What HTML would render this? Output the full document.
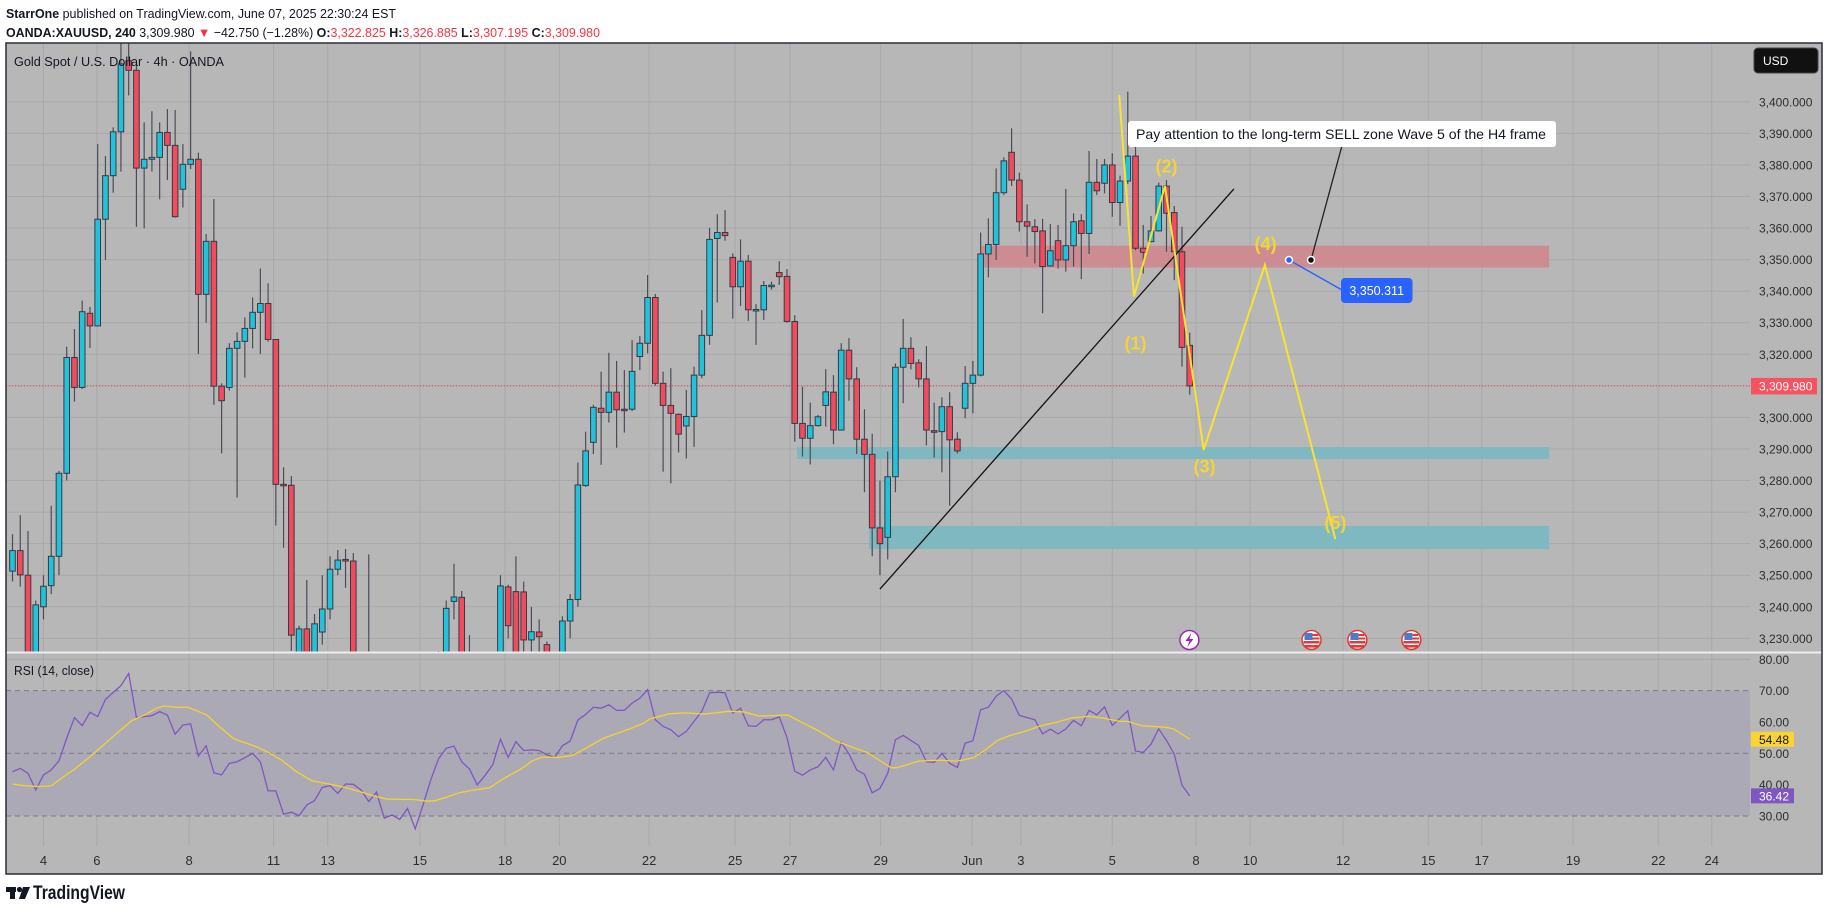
<!DOCTYPE html>
<html>
<head>
<meta charset="utf-8">
<style>
html,body{margin:0;padding:0;background:#fff;}
svg{display:block;font-family:"Liberation Sans",sans-serif;}
</style>
</head>
<body>
<svg id="root" width="1829" height="911" viewBox="0 0 1829 911" xmlns="http://www.w3.org/2000/svg">
  <rect x="0" y="0" width="1829" height="911" fill="#ffffff"/>
  <text x="6" y="18" font-size="13" fill="#131722" textLength="390" lengthAdjust="spacingAndGlyphs"><tspan font-weight="bold">StarrOne</tspan> published on TradingView.com, June 07, 2025 22:30:24 EST</text>
  <text x="6" y="37" font-size="13" fill="#131722" textLength="594" lengthAdjust="spacingAndGlyphs"><tspan font-weight="bold">OANDA:XAUUSD, 240</tspan> 3,309.980 <tspan fill="#f23645">▼</tspan> −42.750 (−1.28%) <tspan font-weight="bold">O:</tspan><tspan fill="#f23645">3,322.825</tspan> <tspan font-weight="bold">H:</tspan><tspan fill="#f23645">3,326.885</tspan> <tspan font-weight="bold">L:</tspan><tspan fill="#f23645">3,307.195</tspan> <tspan font-weight="bold">C:</tspan><tspan fill="#f23645">3,309.980</tspan></text>

  <rect x="6" y="43" width="1816" height="831" fill="#b7b7b7"/>
  <defs>
    <clipPath id="pricePane"><rect x="6" y="43" width="1744" height="609"/></clipPath>
    <clipPath id="rsiPane"><rect x="6" y="653" width="1744" height="193"/></clipPath>
  </defs>
  <g id="grid"></g>
  <g id="rsiBg"></g>
  <g id="zones" clip-path="url(#pricePane)"></g>
  <g id="candles" clip-path="url(#pricePane)"></g>
  <g id="drawings" clip-path="url(#pricePane)"></g>
  <g id="rsi" clip-path="url(#rsiPane)"></g>
  <g id="axes"></g>

  <line x1="6" y1="652.5" x2="1822" y2="652.5" stroke="#eeeeee" stroke-width="2"/>
  <text x="14" y="66" font-size="13" fill="#131722" textLength="210" lengthAdjust="spacingAndGlyphs">Gold Spot / U.S. Dollar · 4h · OANDA</text>
  <text x="14" y="675" font-size="13" fill="#131722" textLength="80" lengthAdjust="spacingAndGlyphs">RSI (14, close)</text>
  <rect x="1754" y="48" width="64" height="25" rx="4" fill="#111111" stroke="#444" stroke-width="1"/>
  <text x="1763" y="65" font-size="12" fill="#ffffff">USD</text>
  <rect x="6" y="43" width="1816" height="831" fill="none" stroke="#2a2e39" stroke-width="1.5"/>
  <g>
    <rect x="6" y="887" width="10" height="5" fill="#131722"/>
    <rect x="10" y="887" width="5" height="12" fill="#131722"/>
    <circle cx="19.5" cy="889.5" r="2.6" fill="#131722"/>
    <polygon points="23,887 30,887 25,899 19,899" fill="#131722"/>
    <text x="33" y="899" font-size="19" font-weight="bold" fill="#131722" textLength="92" lengthAdjust="spacingAndGlyphs">TradingView</text>
  </g>
</svg>
<script>
const opens = [3251.3,3257.8,3250,3222,3240,3246.7,3256,3282.3,3319,3309.5,3333,3329,3362.8,3376.6,3390.5,3413,3410,3379,3381.8,3382.4,3390.3,3386.2,3372.3,3380.2,3381.8,3339,3355.8,3309.9,3309.5,3321.9,3324.1,3328.2,3333.3,3336.1,3324.7,3278.8,3278.5,3224,3233,3222,3232,3239.3,3251.9,3255,3254.5,3218,3210,3220,3212,3205,3214,3219,3211,3217,3209,3216,3222,3241.7,3243,3218,3214,3219,3212,3220,3246.3,3244.8,3244.7,3229.5,3232,3228,3220,3214,3235.5,3242.3,3278.4,3292.1,3302.9,3301.6,3308,3302.6,3302.6,3319.3,3323.5,3338,3310.8,3303.8,3301,3297.3,3300.3,3313.4,3326,3356.7,3358.6,3350.7,3341.4,3349.5,3334.1,3334.1,3341.8,3345.9,3344.7,3330.4,3298.1,3293.4,3297.4,3303.8,3308,3296,3321.3,3312.2,3293.1,3288.3,3265,3262,3281.2,3315.9,3321.9,3317.3,3312.2,3295.8,3295.5,3303.4,3293.1,3302.9,3310.8,3313.4,3351.8,3354.8,3371.2,3384,3375.2,3362,3360.4,3359.1,3348,3356,3349.9,3354.4,3362.3,3358.3,3374.5,3374.2,3380,3368.1,3374.9,3382.8,3353.6,3355.7,3359.1,3373.3,3364.9,3352.5,3322.825];
const highs = [3263,3269,3264,3242,3250,3272,3283,3322.4,3328,3337,3335,3386.6,3382.8,3391.9,3420,3422,3412,3393.5,3397,3393.5,3397.7,3397.4,3386.6,3416,3383.9,3358.1,3369.2,3310.8,3323.5,3327,3331.7,3338,3347.2,3342.5,3324.7,3284.2,3281.4,3234,3248.5,3237.7,3250,3256,3258,3258.3,3257,3224,3256.6,3224,3218,3220,3223,3222,3221,3220,3222,3226,3242,3253.6,3245,3231,3224,3223,3224,3250,3247,3256,3248,3240,3236,3229,3224,3237,3244,3285.7,3295.5,3304,3314.5,3320.5,3317.9,3315,3324.5,3325.8,3345.1,3339.1,3314.5,3315.6,3301.3,3308.7,3316.1,3334,3360.1,3364.4,3365.7,3352,3356.4,3351.5,3335.9,3343.2,3343,3349.5,3347,3332.4,3309.7,3304.7,3300.8,3315.3,3313.4,3323.5,3325.1,3315.9,3302.6,3294.8,3280,3289.2,3317.1,3331.2,3325.4,3318.4,3322.6,3304.7,3306.4,3308,3295.3,3316.3,3317.9,3358.6,3363.1,3378.9,3382.4,3391.6,3377.6,3367.5,3362.8,3362.9,3361.3,3361,3372.4,3364.7,3364.4,3384.4,3381.9,3381.9,3383.7,3376.6,3403.2,3388.1,3361,3363.8,3374.4,3375.2,3367,3360.4,3326.885];
const lows = [3248,3246.4,3218,3219,3236,3244,3250,3280,3305,3309,3322,3329,3349.9,3371.2,3377.9,3402,3360.4,3359.9,3377.9,3369.1,3375.2,3363.3,3366.5,3378.7,3320.1,3330,3304,3288.6,3308.5,3274.6,3312.6,3321.9,3320.1,3324,3265.7,3258.7,3226,3218,3216,3218,3228,3236,3250,3246,3212,3204,3205,3206,3200,3201,3210,3207,3206,3204,3205,3212,3220,3236,3212,3208,3210,3207,3209,3217,3230,3219,3225,3225,3224,3214,3208,3210,3230,3240,3278,3288.4,3285,3298.4,3290.4,3295.2,3302,3315,3320.3,3310.1,3282.8,3279.1,3288.9,3287,3290.7,3312.4,3323,3336.4,3356,3331.3,3335.3,3330.6,3323,3330.9,3340.5,3342,3330,3292.3,3287.6,3285.1,3297.1,3297.1,3291.5,3296,3305.3,3288.4,3276.3,3256,3250,3255,3276.3,3304.5,3315.2,3309.5,3291.1,3287.3,3282.6,3272,3288.6,3299.7,3301.3,3313,3344.4,3349.9,3370.5,3373.3,3358.9,3350.9,3348.8,3333,3347.8,3347.2,3346.2,3347.8,3343.8,3351.8,3370.5,3371,3363.6,3360.7,3374,3353,3345.6,3355.5,3358.9,3352.5,3343.5,3316.1,3307.195];
const closes = [3257.8,3250.1,3222,3240.6,3246.5,3256,3282.3,3319,3309.5,3333.5,3329,3362.8,3376.6,3390.5,3412,3410,3379,3381.8,3382.4,3390.3,3386.2,3363.6,3380.2,3381.8,3339,3355.8,3309.9,3305.3,3321.9,3324.1,3328.2,3333.3,3336.1,3324.7,3278.8,3278.6,3231,3233,3222,3234.6,3239.3,3251.9,3254.8,3254.5,3218,3210,3220,3212,3205,3214,3219,3211,3217,3209,3216,3222,3239.5,3243.1,3218,3214,3219,3212,3220,3246.6,3234,3224,3229.5,3232.1,3230.5,3220,3214,3235.5,3242.3,3278.6,3289.4,3303.2,3301.6,3308,3302.4,3302.5,3314.6,3323.5,3338,3310.8,3303.8,3301.3,3294.7,3300.3,3313.4,3326,3356.4,3358.6,3357.6,3341.4,3349.5,3334.1,3334.2,3341.8,3341.9,3344.6,3330.4,3298.1,3293.4,3297.4,3300.2,3308.1,3296,3321.3,3312.2,3293.1,3288.3,3265,3260,3281.2,3315.9,3321.9,3317.1,3312.2,3296,3295.3,3303.4,3292.9,3289.4,3310.8,3313.4,3351.8,3354.8,3371.2,3381.3,3375.2,3362,3360.6,3358.9,3347.8,3352.8,3349.9,3354.4,3362,3358.3,3374.5,3371.8,3380,3368.1,3374.9,3382.8,3353.6,3352.3,3359.1,3373.3,3364.7,3352.5,3322.2,3309.98];
const rsiValues = [44.1,45.2,43.6,38.3,43.1,44.7,47.6,54.8,61.4,58.8,63.1,61.7,67.2,69.4,71.6,75.5,61.4,61.7,62.0,63.3,62.2,56.1,59.0,59.4,49.1,52.4,43.8,43.1,46.8,47.3,48.6,50.0,47.3,38.0,38.0,30.6,31.2,30.1,33.5,34.9,39.1,39.7,37.2,40.2,40.1,38.3,34.6,37.6,29.3,30.3,28.9,32.4,25.9,33.5,41.5,48.2,51.6,52.3,47.3,45.0,39.9,42.9,46.3,54.5,48.7,53.7,50.9,51.1,50.9,49.5,48.7,52.4,53.9,60.6,62.4,64.7,64.4,65.5,63.7,63.7,66.0,67.6,70.3,60.7,58.6,57.5,55.3,57.0,60.2,63.4,69.3,69.5,69.3,62.8,64.4,58.8,58.6,60.7,60.7,61.6,55.0,44.3,43.0,44.7,45.7,48.7,44.7,53.5,49.8,44.7,43.3,37.4,38.8,43.6,54.3,55.7,54.1,52.5,47.3,47.1,50.0,46.8,45.5,53.2,54.0,63.9,64.7,68.2,70.0,67.3,62.1,61.4,60.7,56.2,57.7,56.2,57.8,60.5,58.8,63.7,62.3,64.8,58.9,61.2,63.6,50.7,50.3,52.9,57.8,54.1,49.7,39.8,36.42];
const rsiMaIdx = [0,1.4,3.3,5,6.3,8,10,12,13.7,15.4,17.2,18.6,19.6,21.1,22.6,23.8,25.1,26.5,28.6,30,31.7,33,34.7,36.7,38.7,40.4,41.9,43.4,44.8,46.6,48.3,50.3,51.7,53.2,54.5,55.9,57.7,59.4,61.6,63.6,65.6,67.1,68.5,70.5,72.3,74,76.3,78.1,79.7,81.5,82.3,84.8,86.8,89.4,92.4,94.5,96.3,98.1,100.1,102.1,104.2,106.2,108.3,110.3,112.1,113.4,114.2,117,119.5,122,124.1,125.6,127.2,128.7,130.7,132.8,134.8,136.6,138.9,140.9,143,144,145.8,148.9,149.9,152];
const rsiMaValues = [40.2,39.7,39.4,39.6,42.0,44.9,48.9,53.2,56.9,60.4,62.4,64.4,65.1,64.7,64.7,63.6,62.2,59.0,54.6,53.4,51.9,50.3,47.9,44.1,41.2,40.4,39.7,38.8,37.8,36.4,35.4,35.3,35.3,34.8,34.8,35.9,37.4,38.2,39.0,42.2,44.9,47.6,48.8,48.7,49.3,51.6,54.8,56.4,57.8,59.6,61.0,62.6,62.9,62.5,63.4,63.2,61.9,62.0,62.2,59.6,57.0,54.0,52.1,50.3,47.5,45.4,45.4,47.5,47.8,47.5,48.6,51.1,54.1,55.6,57.0,58.8,59.9,61.2,61.8,61.2,60.2,60.2,58.8,58.3,57.8,54.48];
const priceTicks = [3400,3390,3380,3370,3360,3350,3340,3330,3320,3310,3300,3290,3280,3270,3260,3250,3240,3230];
const rsiTicks = [80,70,60,50,40,30];
const rsiLevels = [70,50,30];
const timeLabels = ["4","6","8","11","13","15","18","20","22","25","27","29","Jun","3","5","8","10","12","15","17","19","22","24"];
const timeIdx = [4,10.9,22.8,33.7,40.7,52.6,63.6,70.6,82.2,93.3,100.4,112.1,123.9,130.2,142,152.8,159.8,171.8,182.8,189.7,201.5,212.5,219.4];
const lastPrice = 3309.98;
const lastRsi = 36.42;
const lastRsiMa = 54.48;
const waveIdx = [142.9,144.8,148.8,153.8,161.7,170.8];
const wavePrice = [3402.2,3338.3,3373.3,3289.7,3348.3,3261.4];
const waveLabels = ["(1)","(2)","(3)","(4)","(5)"];
const waveLabelIdx = [145,149,153.9,161.8,170.8];
const waveLabelPrice = [3323.5,3379.5,3284.5,3355,3266.5];
const zoneNames = ["sell-zone","support-zone-1","support-zone-2"];
const zoneStartIdx = [125.1,101.3,110.6];
const zoneEndIdx = [198.4,198.4,198.4];
const zoneTop = [3354.4,3290.6,3265.6];
const zoneBottom = [3347.5,3286.8,3258.3];
const trendIdx = [112,157.7];
const trendPrice = [3245.6,3372.4];

const X0 = 12.5, STEP = 7.745;
const xOf = i => X0 + i * STEP;
const yOf = p => 354.3 + (3320 - p) * 3.156;
const yR = v => 753.3 - (v - 50) * 3.133;
const NS = "http://www.w3.org/2000/svg";
function mk(tag, attrs, parent) {
  const e = document.createElementNS(NS, tag);
  for (const k in attrs) e.setAttribute(k, attrs[k]);
  parent.appendChild(e);
  return e;
}
const grid = document.getElementById("grid");
const axes = document.getElementById("axes");
const rsiBg = document.getElementById("rsiBg");
const zones = document.getElementById("zones");
const candles = document.getElementById("candles");
const drawings = document.getElementById("drawings");
const rsiG = document.getElementById("rsi");

timeIdx.forEach((ti, k) => {
  const x = xOf(ti);
  const gl = mk("line", {x1: x, y1: 43, x2: x, y2: 846, stroke: "#a9a9ab", "stroke-width": 1}, grid);
  
  
  const t = mk("text", {x: x, y: 865, "font-size": 13, fill: "#2e2e2e", "text-anchor": "middle"}, axes);
  t.textContent = timeLabels[k];
  
  
});
priceTicks.forEach(p => {
  const y = yOf(p);
  const gl = mk("line", {x1: 6, y1: y, x2: 1750, y2: y, stroke: "#a9a9ab", "stroke-width": 1}, grid);
  
  
  const t = mk("text", {x: 1759, y: y + 4.5, "font-size": 12, fill: "#2e2e2e"}, axes);
  t.textContent = p.toLocaleString("en-US") + ".000";
  
  
});
const band = mk("rect", {x: 6, y: yR(70), width: 1744, height: yR(30) - yR(70), fill: "#aca9b7"}, rsiBg);


rsiTicks.forEach(v => {
  const y = yR(v);
  const isLevel = rsiLevels.indexOf(v) >= 0;
  const gl = mk("line", {x1: 6, y1: y, x2: 1750, y2: y, stroke: isLevel ? "#7a7c86" : "#a9a9ab", "stroke-width": 1, "stroke-dasharray": isLevel ? "5 4" : "none"}, rsiBg);
  
  
  const t = mk("text", {x: 1759, y: y + 4.5, "font-size": 12, fill: "#2e2e2e"}, axes);
  t.textContent = v.toFixed(2);
  
  
});

zoneNames.forEach((n, k) => {
  const isSell = k === 0;
  const r = mk("rect", {x: xOf(zoneStartIdx[k]), y: yOf(zoneTop[k]), width: xOf(zoneEndIdx[k]) - xOf(zoneStartIdx[k]), height: yOf(zoneBottom[k]) - yOf(zoneTop[k]), fill: isSell ? "#cc8c92" : "#7fb8c0"}, zones);
  
  
});

const lp = mk("line", {x1: 6, y1: yOf(lastPrice), x2: 1750, y2: yOf(lastPrice), stroke: "#f23645", "stroke-width": 1, "stroke-dasharray": "1 2"}, zones);



closes.forEach((c, i) => {
  const o = opens[i], h = highs[i], l = lows[i];
  const x = xOf(i);
  const up = c >= o;
  const g = mk("g", {}, candles);
  
  
  const w = mk("line", {x1: x, y1: yOf(h), x2: x, y2: yOf(l), stroke: "#4a4d57", "stroke-width": 1.2}, g);
  
  
  const top = yOf(Math.max(o, c)), bot = yOf(Math.min(o, c));
  const b = mk("rect", {x: x - 2.8, y: top, width: 5.6, height: Math.max(1.5, bot - top), fill: up ? "#22c2da" : "#f24b5e", stroke: "#363a45", "stroke-width": 1}, g);
  
  
});

const tl = mk("line", {x1: xOf(trendIdx[0]), y1: yOf(trendPrice[0]), x2: xOf(trendIdx[1]), y2: yOf(trendPrice[1]), stroke: "#111", "stroke-width": 1.3}, drawings);


const wp = mk("polyline", {points: waveIdx.map((w, k) => xOf(w) + "," + yOf(wavePrice[k])).join(" "), fill: "none", stroke: "#f9e231", "stroke-width": 2}, drawings);


waveLabels.forEach((s, k) => {
  const t = mk("text", {x: xOf(waveLabelIdx[k]), y: yOf(waveLabelPrice[k]) + 6, "font-size": 18, "font-weight": "bold", fill: "#f3d436", "text-anchor": "middle"}, drawings);
  t.textContent = s;
  
  
});

const cl = mk("line", {x1: 1341.7, y1: 146.7, x2: 1311, y2: 260, stroke: "#222", "stroke-width": 1.3}, drawings);


const cb = mk("rect", {x: 1128, y: 121, width: 428, height: 26, rx: 3, fill: "#ffffff"}, drawings);


const ct = mk("text", {x: 1136, y: 139, "font-size": 14, fill: "#131722", textLength: 410, lengthAdjust: "spacingAndGlyphs"}, drawings);
ct.textContent = "Pay attention to the long-term SELL zone Wave 5 of the H4 frame";


const cd = mk("circle", {cx: 1311, cy: 260, r: 3.5, fill: "#111", stroke: "#fff", "stroke-width": 1.5}, drawings);


const bl = mk("line", {x1: 1289, y1: 260, x2: 1342, y2: 290, stroke: "#2962ff", "stroke-width": 1.3}, drawings);


const bd = mk("circle", {cx: 1289, cy: 260, r: 3.5, fill: "#2962ff", stroke: "#fff", "stroke-width": 1.5}, drawings);


const bb = mk("rect", {x: 1341, y: 278, width: 71.5, height: 25, rx: 4, fill: "#2962ff"}, drawings);


const bt = mk("text", {x: 1376.7, y: 295, "font-size": 12.5, fill: "#fff", "text-anchor": "middle"}, drawings);
bt.textContent = "3,350.311";



const evX = [1189.4, 1311.5, 1357.4, 1411.4];
evX.forEach((x, k) => {
  const g = mk("g", {}, drawings);
  
  
  if (k === 0) {
    mk("circle", {cx: x, cy: 640, r: 9.5, fill: "#fff", stroke: "#9c27b0", "stroke-width": 1.5}, g);
    mk("polygon", {points: `${x+2},${633} ${x-4},${641} ${x},${641} ${x-2},${647} ${x+4},${639} ${x},${639}`, fill: "#9c27b0"}, g);
  } else {
    mk("circle", {cx: x, cy: 640, r: 9.5, fill: "#fff", stroke: "#e53935", "stroke-width": 1.5}, g);
    mk("rect", {x: x - 8, y: 641, width: 16, height: 2.5, fill: "#e53935"}, g);
    mk("rect", {x: x - 7, y: 645, width: 14, height: 2.5, fill: "#e53935"}, g);
    mk("rect", {x: x - 7, y: 633, width: 8, height: 7, fill: "#4a7bd0"}, g);
    mk("rect", {x: x + 1, y: 634, width: 6, height: 2, fill: "#e53935"}, g);
    mk("rect", {x: x + 1, y: 637.5, width: 7, height: 2, fill: "#e53935"}, g);
  }
});

const rl = mk("polyline", {points: rsiValues.map((v, i) => xOf(i) + "," + yR(v)).join(" "), fill: "none", stroke: "#7e57c2", "stroke-width": 1.3}, rsiG);


const ml = mk("polyline", {points: rsiMaValues.map((v, k) => xOf(rsiMaIdx[k]) + "," + yR(v)).join(" "), fill: "none", stroke: "#f5d22c", "stroke-width": 1.3}, rsiG);



const pb = mk("rect", {x: 1751, y: yOf(lastPrice) - 8, width: 66, height: 16.5, fill: "#f7525f"}, axes);


const pt = mk("text", {x: 1759, y: yOf(lastPrice) + 4.5, "font-size": 12, fill: "#fff"}, axes);
pt.textContent = "3,309.980";


const mb = mk("rect", {x: 1751, y: yR(lastRsiMa) - 7.5, width: 43, height: 15, fill: "#fbd434"}, axes);


const mt = mk("text", {x: 1759, y: yR(lastRsiMa) + 4.5, "font-size": 12, fill: "#131722"}, axes);
mt.textContent = lastRsiMa.toFixed(2);


const rb = mk("rect", {x: 1751, y: yR(lastRsi) - 7.5, width: 43, height: 15, fill: "#7e57c2"}, axes);


const rt = mk("text", {x: 1759, y: yR(lastRsi) + 4.5, "font-size": 12, fill: "#fff"}, axes);
rt.textContent = lastRsi.toFixed(2);


</script>
</body>
</html>
